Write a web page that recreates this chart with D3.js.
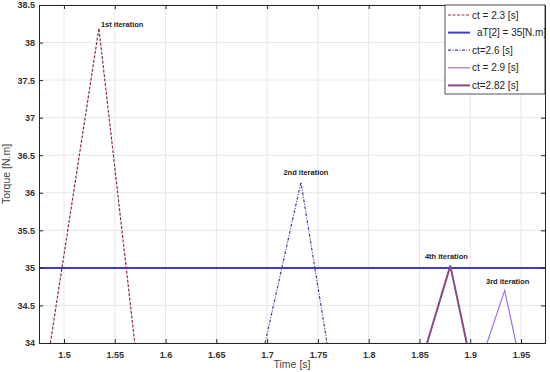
<!DOCTYPE html>
<html>
<head>
<meta charset="utf-8">
<script src="https://cdn.jsdelivr.net/npm/d3@7"></script>
<style>
  body { margin: 0; background: #fff; }
  svg { display: block; font-family: "Liberation Sans", Arial, sans-serif; }
</style>
</head>
<body>
<div id="chart"></div>
<script>
// values: [time (s), torque (N.m)]
const ct23 = [[1.4866, 34], [1.5344, 38.19], [1.5697, 34]];
const ct26 = [[1.6980, 34], [1.7333, 36.14], [1.7590, 34]];
const ct282 = [[1.8575, 34], [1.8804, 35.03], [1.8965, 34]];
const ct29 = [[1.9165, 34], [1.9339, 34.70], [1.9450, 34]];
const refTorque = 35;

const xTicks = [1.5, 1.55, 1.6, 1.65, 1.7, 1.75, 1.8, 1.85, 1.9, 1.95];
const yTicks = [34, 34.5, 35, 35.5, 36, 36.5, 37, 37.5, 38, 38.5];

const legendNames = ["ct = 2.3 [s]", "aT[2] = 35[N.m]", "ct=2.6 [s]", "ct = 2.9 [s]", "ct=2.82 [s]"];
const iterLabels = ["1st iteration", "2nd iteration", "4th iteration", "3rd iteration"];

const width = 550, height = 372;
const margin = { top: 5, right: 5, bottom: 29, left: 39 };

const svg = d3.select("#chart").append("svg")
  .attr("width", width).attr("height", height);

const x = d3.scaleLinear().domain([1.4754, 1.9736]).range([margin.left, width - margin.right]);
const y = d3.scaleLinear().domain([34, 38.5]).range([height - margin.bottom, margin.top]);

// grid
svg.append("g").selectAll("line").data(xTicks).join("line")
  .attr("x1", d => x(d)).attr("x2", d => x(d))
  .attr("y1", y(34)).attr("y2", y(38.5))
  .attr("stroke", "#e6e6e6").attr("stroke-width", 1);
svg.append("g").selectAll("line").data(yTicks).join("line")
  .attr("y1", d => y(d)).attr("y2", d => y(d))
  .attr("x1", x.range()[0]).attr("x2", x.range()[1])
  .attr("stroke", "#e6e6e6").attr("stroke-width", 1);

// clip for the lines
svg.append("clipPath").attr("id", "clip").append("rect")
  .attr("x", margin.left).attr("y", margin.top)
  .attr("width", width - margin.left - margin.right)
  .attr("height", height - margin.top - margin.bottom);

const plot = svg.append("g").attr("clip-path", "url(#clip)");
const line = d3.line().x(d => x(d[0])).y(d => y(d[1]));

const series = [
  { data: ct23, color: "#8c2f3f", width: 1.2, dash: "3,1.5" },
  { data: [[1.4754, refTorque], [1.9736, refTorque]], color: "#3b3bd6", width: 2, dash: null },
  { data: ct26, color: "#4a3a9c", width: 1.2, dash: "3,1.5,1,1.5" },
  { data: ct29, color: "#a070e6", width: 1.2, dash: null },
  { data: ct282, color: "#8a4a7e", width: 2, dash: null }
];

// draw order: ref line first so peaks sit on top
[1, 0, 2, 4, 3].forEach(i => {
  const s = series[i];
  plot.append("path").datum(s.data)
    .attr("fill", "none")
    .attr("stroke", s.color)
    .attr("stroke-width", s.width)
    .attr("stroke-dasharray", s.dash)
    .attr("d", line);
});

// axes
const xAxis = svg.append("g")
  .attr("transform", `translate(0,${y(34)})`)
  .call(d3.axisBottom(x).tickValues(xTicks).tickSize(-4).tickPadding(9).tickFormat(d3.format("")));
const yAxis = svg.append("g")
  .attr("transform", `translate(${margin.left},0)`)
  .call(d3.axisLeft(y).tickValues(yTicks).tickSize(-4).tickPadding(4).tickFormat(d3.format("")));
[xAxis, yAxis].forEach(a => {
  a.select(".domain").attr("stroke", "#262626");
  a.selectAll(".tick line").attr("stroke", "#262626");
  a.selectAll(".tick text").attr("fill", "#333").attr("font-weight", "bold").style("font-size", "9px");
});
// top and right box edges with inward ticks
svg.append("g").attr("transform", `translate(0,${y(38.5)})`)
  .call(d3.axisTop(x).tickValues(xTicks).tickSize(-4).tickFormat(""))
  .call(g => g.selectAll("path,line").attr("stroke", "#262626"));
svg.append("g").attr("transform", `translate(${x.range()[1]},0)`)
  .call(d3.axisRight(y).tickValues(yTicks).tickSize(-4).tickFormat(""))
  .call(g => g.selectAll("path,line").attr("stroke", "#262626"));

// axis labels
svg.append("text")
  .attr("x", (x.range()[0] + x.range()[1]) / 2).attr("y", 368)
  .attr("text-anchor", "middle").attr("fill", "#444").style("font-size", "10.5px")
  .text("Time [s]");
svg.append("text")
  .attr("transform", `translate(10,${(y(34) + y(38.5)) / 2}) rotate(-90)`)
  .attr("text-anchor", "middle").attr("fill", "#444").style("font-size", "10.5px")
  .text("Torque [N.m]");

// iteration annotations, placed at each peak
const peaks = [ct23[1], ct26[1], ct282[1], ct29[1]];
const labelOffset = [[2, -1.5, "start"], [5, -7, "middle"], [-4, -7, "middle"], [3, -6, "middle"]];
svg.append("g").selectAll("text").data(iterLabels).join("text")
  .attr("x", (d, i) => x(peaks[i][0]) + labelOffset[i][0])
  .attr("y", (d, i) => y(peaks[i][1]) + labelOffset[i][1])
  .attr("text-anchor", (d, i) => labelOffset[i][2])
  .attr("font-weight", "bold").attr("fill", "#222")
  .style("font-size", "7.5px")
  .text(d => d);

// legend
const lg = svg.append("g").attr("transform", "translate(445,5)");
lg.append("rect").attr("width", 100).attr("height", 89)
  .attr("fill", "#fff").attr("stroke", "#262626").attr("stroke-width", 0.8);
legendNames.forEach((name, i) => {
  const s = series[i];
  const yy = 10 + i * 17.6;
  lg.append("line").attr("x1", 3).attr("x2", 25).attr("y1", yy).attr("y2", yy)
    .attr("stroke", s.color).attr("stroke-width", s.width)
    .attr("stroke-dasharray", s.dash);
  lg.append("text").attr("x", i === 1 ? 32 : 27).attr("y", yy + 3.5)
    .attr("fill", "#222").style("font-size", "10px")
    .text(name);
});
</script>
</body>
</html>
